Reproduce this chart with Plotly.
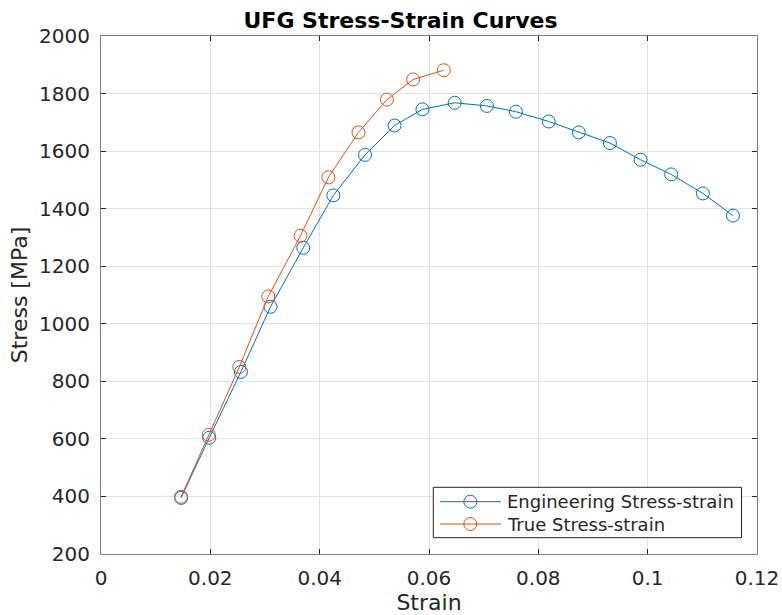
import plotly.graph_objects as go

eng_strain = [0.01465, 0.0198, 0.0256, 0.0310, 0.0370, 0.0425, 0.0483, 0.0537, 0.0588, 0.0647,
              0.0706, 0.0759, 0.0819, 0.0874, 0.0931, 0.0987, 0.1043, 0.1101, 0.1156]
eng_stress = [395, 604, 833, 1059, 1264, 1446, 1587, 1689, 1745, 1768,
              1757, 1737, 1703, 1665, 1628, 1570, 1519, 1453, 1376]

true_strain = [0.01465, 0.0197, 0.0253, 0.0306, 0.0365, 0.0416, 0.0471, 0.0523, 0.0571, 0.0627]
true_stress = [399, 614, 850, 1095, 1306, 1509, 1665, 1779, 1849, 1881]

series_names = ["Engineering Stress-strain", "True Stress-strain"]
series_colors = ["#0072BD", "#D95319"]

FONT = "DejaVu Sans"
AX = "#262626"

fig = go.Figure()
for xs, ys, nm, col in [(eng_strain, eng_stress, series_names[0], series_colors[0]),
                        (true_strain, true_stress, series_names[1], series_colors[1])]:
    fig.add_trace(go.Scatter(x=xs, y=ys, mode="lines+markers", name=nm, showlegend=False,
                             line=dict(color=col, width=1),
                             marker=dict(symbol="circle-open", size=13, color=col, line=dict(width=1))))

axis_common = dict(showgrid=True, gridcolor="#e3e3e3", gridwidth=1,
                   showline=True, linecolor="#808080", linewidth=1, mirror="ticks",
                   ticks="inside", ticklen=5, tickcolor=AX, zeroline=False,
                   ticklabelstandoff=6, automargin=False,
                   tickfont=dict(family=FONT, size=20, color=AX))

fig.update_xaxes(range=[0, 0.12], tickvals=[0, 0.02, 0.04, 0.06, 0.08, 0.1, 0.12],
                 ticktext=["0", "0.02", "0.04", "0.06", "0.08", "0.1", "0.12"],
                 title=dict(text="Strain", font=dict(family=FONT, size=22, color=AX), standoff=4),
                 **axis_common)
fig.update_yaxes(range=[200, 2000], dtick=200,
                 title=dict(text="Stress [MPa]", font=dict(family=FONT, size=22, color=AX), standoff=5),
                 **axis_common)

# Manual legend (MATLAB style)
L, T, W, H = 101, 36, 656, 518
px = lambda v: (v - L) / W
py = lambda v: (T + H - v) / H
shapes = [dict(type="rect", xref="paper", yref="paper",
               x0=px(433.3), x1=px(741.5), y0=py(537.7), y1=py(487.3),
               line=dict(color=AX, width=1), fillcolor="white", layer="above")]
annotations = []
for i, (nm, col) in enumerate(zip(series_names, series_colors)):
    yc = py(501.7 + i * 22.3)
    shapes.append(dict(type="line", xref="paper", yref="paper", x0=px(440), x1=px(501), y0=yc, y1=yc,
                       line=dict(color=col, width=1), layer="above"))
    shapes.append(dict(type="circle", xref="paper", yref="paper",
                       xsizemode="pixel", ysizemode="pixel", xanchor=px(470.3), yanchor=yc,
                       x0=-6.5, x1=6.5, y0=-6.5, y1=6.5,
                       line=dict(color=col, width=1), fillcolor="rgba(0,0,0,0)", layer="above"))
    annotations.append(dict(text=nm, xref="paper", yref="paper", x=px(505), y=yc,
                            xanchor="left", yanchor="middle", showarrow=False,
                            font=dict(family=FONT, size=18, color=AX)))

fig.update_layout(
    width=782, height=615,
    margin=dict(l=L, r=782 - L - W, t=T, b=615 - T - H),
    paper_bgcolor="white", plot_bgcolor="white",
    title=dict(text="<b>UFG Stress-Strain Curves</b>", x=400.5 / 782, xref="container", xanchor="center",
               y=1 - 20 / 615, yref="container", yanchor="middle",
               font=dict(family=FONT, size=22, color="black")),
    shapes=shapes, annotations=annotations,
    showlegend=False,
)

fig.write_html("out.html")
